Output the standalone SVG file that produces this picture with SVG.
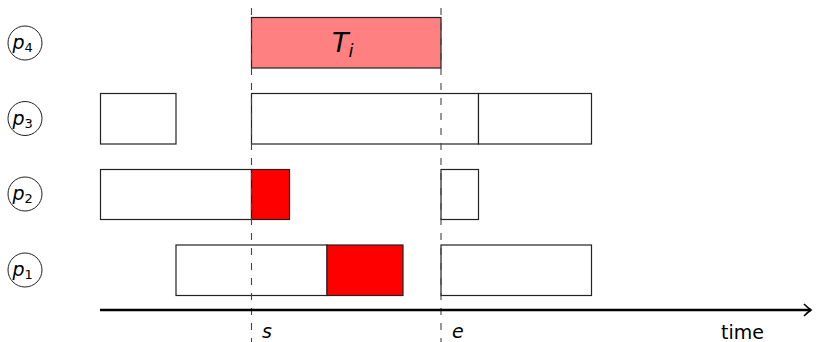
<svg xmlns="http://www.w3.org/2000/svg" width="816" height="342" viewBox="0 0 816 342">
<style>
.box{fill:#fff;stroke:#222;stroke-width:1.2}
.red{fill:#ff0000;stroke:#222;stroke-width:1.2}
.pink{fill:#ff8080;stroke:#222;stroke-width:1.2}
.dash{stroke:#444;stroke-width:1.1;stroke-dasharray:7 8;fill:none}
.pc{fill:#fff;stroke:#222;stroke-width:1}
.t{font-family:"DejaVu Sans","Liberation Sans",sans-serif;fill:#000}
.it{font-style:italic}
</style>
<defs>
<marker id="arr" markerWidth="10" markerHeight="14" refX="8" refY="7" orient="auto" markerUnits="userSpaceOnUse">
<path d="M1,1 Q5,5 8,7 Q5,9 1,13" fill="none" stroke="#000" stroke-width="1.6"/>
</marker>
</defs>
<g id="p4"><circle class="pc" cx="25" cy="43" r="17"/><text class="t it" x="12.5" y="49" font-size="19">p<tspan font-style="normal" font-size="13" dy="3">4</tspan></text></g>
<g id="p3"><circle class="pc" cx="25" cy="118.5" r="17"/><text class="t it" x="12.5" y="124.5" font-size="19">p<tspan font-style="normal" font-size="13" dy="3">3</tspan></text></g>
<g id="p2"><circle class="pc" cx="25" cy="194" r="17"/><text class="t it" x="12.5" y="200" font-size="19">p<tspan font-style="normal" font-size="13" dy="3">2</tspan></text></g>
<g id="p1"><circle class="pc" cx="25" cy="270" r="17"/><text class="t it" x="12.5" y="276" font-size="19">p<tspan font-style="normal" font-size="13" dy="3">1</tspan></text></g>

<g id="Ti"><rect class="pink" x="251.5" y="17.5" width="189.5" height="50.5"/><text class="t it" x="332" y="52" font-size="27">T<tspan font-size="18" dy="5">i</tspan></text></g>

<g id="row3">
<rect class="box" x="100.5" y="93.5" width="75.5" height="50.5"/>
<rect class="box" x="251.5" y="93.5" width="227" height="50.5"/>
<rect class="box" x="478.5" y="93.5" width="113" height="50.5"/>
</g>
<g id="row2">
<rect class="box" x="100.5" y="169.5" width="151" height="50"/>
<rect class="red" x="251.5" y="169.5" width="38" height="50"/>
<rect class="box" x="441" y="169.5" width="37.5" height="50"/>
</g>
<g id="row1">
<rect class="box" x="176" y="245" width="151" height="50.5"/>
<rect class="red" x="327" y="245" width="76" height="50.5"/>
<rect class="box" x="441" y="245" width="150.5" height="50.5"/>
</g>

<g id="connectors">
<line class="dash" x1="251.5" y1="8" x2="251.5" y2="342"/>
<line class="dash" x1="441" y1="8" x2="441" y2="342"/>
<line x1="100" y1="310" x2="811" y2="310" stroke="#000" stroke-width="2.6" marker-end="url(#arr)"/>
</g>
<g id="labels">
<text class="t it" x="262" y="338" font-size="19">s</text>
<text class="t it" x="452" y="338" font-size="19">e</text>
<text class="t" x="721" y="339" font-size="19">time</text>
</g>
</svg>
